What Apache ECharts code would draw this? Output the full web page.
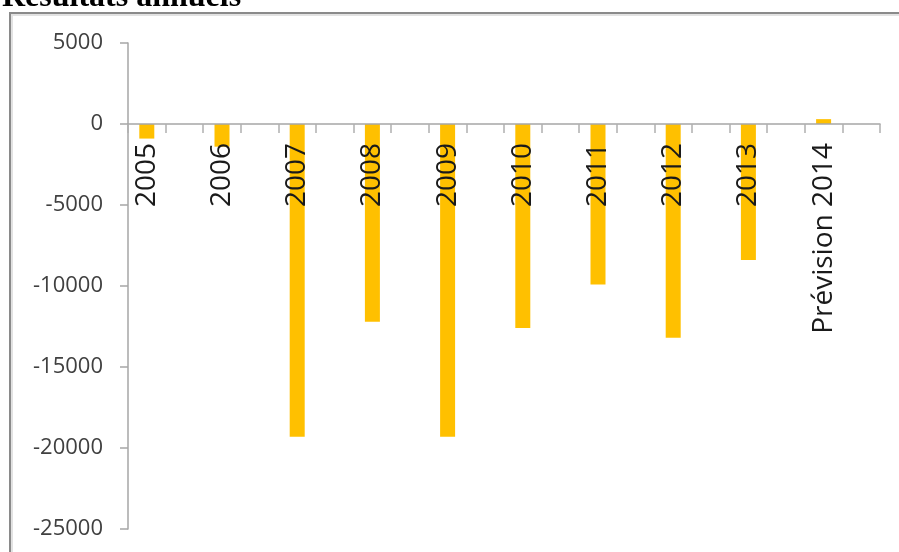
<!DOCTYPE html>
<html>
<head>
<meta charset="utf-8">
<script src="https://cdn.jsdelivr.net/npm/echarts@6/dist/echarts.min.js"></script>
<style>
  html, body { margin: 0; padding: 0; background: #ffffff; }
  #chart { width: 899px; height: 552px; }
</style>
</head>
<body>
<div id="chart"></div>
<script>
// Annual results (categories, values, y ticks)
const categories = ['2005', '2006', '2007', '2008', '2009', '2010', '2011', '2012', '2013', 'Prévision 2014'];
const resultats = [-900, -1400, -19300, -12200, -19300, -12600, -9900, -13200, -8400, 300];
const yTicks = [5000, 0, -5000, -10000, -15000, -20000, -25000];

// Each year occupies one slot followed by an empty slot
const axisCats = [];
const axisVals = [];
categories.forEach((c, i) => {
  axisCats.push(c, '');
  axisVals.push(resultats[i], null);
});

const chart = echarts.init(document.getElementById('chart'), null, { renderer: 'canvas' });

const yMin = Math.min(...yTicks);
const yMax = Math.max(...yTicks);

// Plot area geometry
const gridTop = 43, gridBottom = 23, chartH = 552;
const plotH = chartH - gridTop - gridBottom;
// Shift the category axis (line, ticks and labels) up to the zero line
const zeroOffset = -plotH * (0 - yMin) / (yMax - yMin);

chart.setOption({
  animation: false,
  backgroundColor: '#ffffff',
  graphic: [
    {
      type: 'rect',
      shape: { x: 10, y: 13, width: 1000, height: 1000 },
      style: { fill: 'none', stroke: '#8a8a8a', lineWidth: 2 },
      silent: true
    },
    {
      type: 'rect',
      shape: { x: 12, y: 15, width: 1000, height: 1000 },
      style: { fill: 'none', stroke: '#e2e2e2', lineWidth: 2 },
      silent: true
    },
    {
      type: 'text',
      x: 2,
      y: -2,
      style: {
        text: 'Résultats annuels',
        font: 'bold 32px "Liberation Serif", "DejaVu Serif", serif',
        fill: '#000000',
        align: 'left',
        verticalAlign: 'middle'
      },
      silent: true
    }
  ],
  grid: { left: 128, right: 19, top: gridTop, bottom: gridBottom, containLabel: false, outerBoundsMode: 'none' },
  xAxis: {
    type: 'category',
    data: axisCats,
    boundaryGap: true,
    position: 'bottom',
    offset: zeroOffset,
    z: 10,
    axisLine: { onZero: false, lineStyle: { color: '#a6a6a6', width: 1.5 } },
    axisTick: { show: true, length: 9, lineStyle: { color: '#b0b0b0', width: 1.5 }, alignWithLabel: false, interval: 0 },
    axisLabel: {
      interval: 0,
      rotate: 90,
      margin: 19,
      color: '#1a1a1a',
      fontFamily: '"Open Sans", "Noto Sans", sans-serif',
      fontSize: 28
    },
    splitLine: { show: false }
  },
  yAxis: {
    type: 'value',
    min: yMin,
    max: yMax,
    interval: 5000,
    axisLine: { show: true, lineStyle: { color: '#a6a6a6', width: 1.5 } },
    axisTick: { show: true, length: 8, lineStyle: { color: '#a6a6a6', width: 1.5 } },
    axisLabel: {
      margin: 25,
      color: '#404040',
      fontFamily: '"Open Sans", "Noto Sans", sans-serif',
      fontSize: 22,
      formatter: (v) => String(v)
    },
    splitLine: { show: false }
  },
  series: [
    {
      type: 'bar',
      data: axisVals,
      barWidth: 15,
      itemStyle: { color: '#FFC000' },
      z: 1
    }
  ]
});
</script>
</body>
</html>
